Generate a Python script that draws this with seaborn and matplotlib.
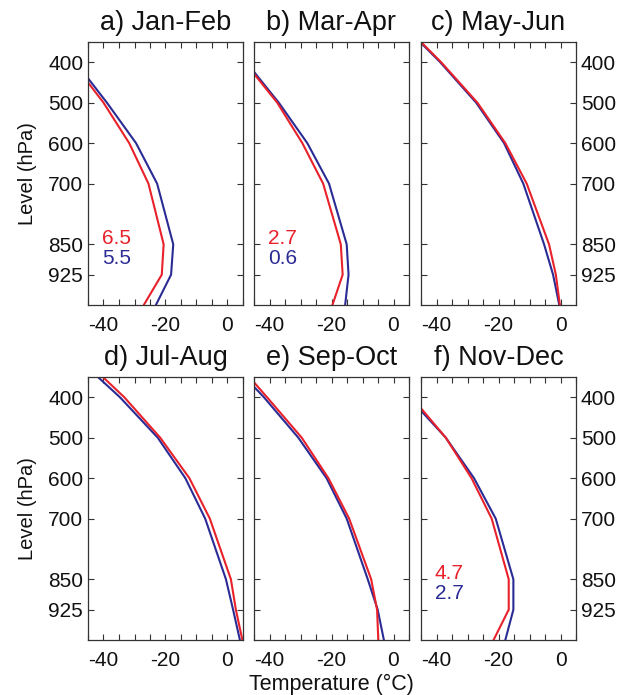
import numpy as np
import pandas as pd
import seaborn as sns
import matplotlib.pyplot as plt

# Уровни давления (гПа)
levels = [1000, 925, 850, 700, 600, 500, 400, 350]

# Профили температуры (°C), красный и синий, по панелям
red_jf = [-27.0, -21.2, -20.6, -25.5, -31.7, -40.0, -50.0, -56.0]
blue_jf = [-23.1, -18.2, -17.5, -22.7, -29.5, -38.9, -49.0, -55.0]
red_ma = [-19.7, -16.4, -17.0, -22.7, -29.4, -37.5, -48.0, -54.0]
blue_ma = [-15.6, -14.5, -15.1, -20.8, -27.8, -37.0, -47.5, -53.5]
red_mj = [-0.2, -1.5, -3.7, -10.9, -17.8, -26.8, -38.5, -45.0]
blue_mj = [-0.4, -2.4, -5.3, -12.0, -18.2, -27.2, -38.8, -45.3]
red_ja = [4.8, 2.7, 1.1, -5.7, -12.3, -21.7, -33.3, -40.2]
blue_ja = [4.0, 1.8, -0.5, -7.2, -13.6, -22.5, -34.7, -41.8]
red_so = [-4.9, -5.3, -7.2, -14.3, -21.0, -29.6, -40.8, -46.5]
blue_so = [-3.1, -5.1, -8.3, -15.1, -21.6, -30.7, -41.8, -48.0]
red_nd = [-21.6, -16.7, -16.7, -22.2, -28.7, -37.0, -48.0, -54.0]
blue_nd = [-17.8, -15.2, -15.2, -20.9, -27.9, -37.0, -49.0, -55.0]

titles = ["a) Jan-Feb", "b) Mar-Apr", "c) May-Jun",
          "d) Jul-Aug", "e) Sep-Oct", "f) Nov-Dec"]
red_all = [red_jf, red_ma, red_mj, red_ja, red_so, red_nd]
blue_all = [blue_jf, blue_ma, blue_mj, blue_ja, blue_so, blue_nd]
# Подписи чисел (красная, синяя); None - без подписи
notes = [("6.5", "5.5"), ("2.7", "0.6"), None, None, None, ("4.7", "2.7")]

sns.set_style("ticks")
plt.rcParams['font.family'] = ['Liberation Sans', 'DejaVu Sans']

RED = "#e8212b"
BLUE = "#2b2b95"

fig = plt.figure(figsize=(6.28, 6.95), dpi=100)
lefts = [88, 254, 421]
tops = [42, 377]
W, H = 628, 695

for i in range(6):
    row, col = divmod(i, 3)
    ax = fig.add_axes([lefts[col] / W, 1 - (tops[row] + 263) / H, 155 / W, 263 / H])
    df = pd.DataFrame({"level": levels * 2,
                       "temp": red_all[i] + blue_all[i],
                       "series": ["red"] * len(levels) + ["blue"] * len(levels)})
    sns.lineplot(data=df, x="temp", y="level", hue="series", sort=False,
                 estimator=None, palette={"red": RED, "blue": BLUE},
                 hue_order=["blue", "red"], linewidth=1.5, legend=False, ax=ax)
    ax.set_xlim(-45, 5)
    ax.set_ylim(1000, 350)
    ax.set_xticks(np.arange(-45, 6, 5))
    ax.set_xticklabels([str(v) if v in (-40, -20, 0) else "" for v in range(-45, 6, 5)])
    ax.set_yticks([400, 500, 600, 700, 850, 925])
    ax.tick_params(direction="in", top=True, right=True, length=4, width=0.8,
                   labelsize=15, colors="#333333", labelcolor="#111111")
    ax.tick_params(axis="x", pad=8)
    if col == 0:
        ax.set_yticklabels(["400", "500", "600", "700", "850", "925"])
        ax.set_ylabel("Level (hPa)", fontsize=14.5, labelpad=8, color="#111111")
    elif col == 2:
        ax.yaxis.tick_right()
        ax.tick_params(axis="y", left=True, right=True, labelleft=False, labelright=True)
        ax.set_yticklabels(["400", "500", "600", "700", "850", "925"])
        ax.set_ylabel("")
    else:
        ax.tick_params(axis="y", labelleft=False)
        ax.set_ylabel("")
    if i == 4:
        ax.set_xlabel("Temperature (°C)", fontsize=15.5, labelpad=3, color="#111111")
    else:
        ax.set_xlabel("")
    for s in ax.spines.values():
        s.set_linewidth(0.9)
        s.set_color("#333333")
    ax.set_title(titles[i], fontsize=19.5, pad=8.5, color="#111111")
    if notes[i] is not None:
        ax.text(-40.5, 835, notes[i][0], color=RED, fontsize=15, va="center", ha="left")
        ax.text(-40.5, 885, notes[i][1], color=BLUE, fontsize=15, va="center", ha="left")

fig.savefig("out.png", dpi=100)
